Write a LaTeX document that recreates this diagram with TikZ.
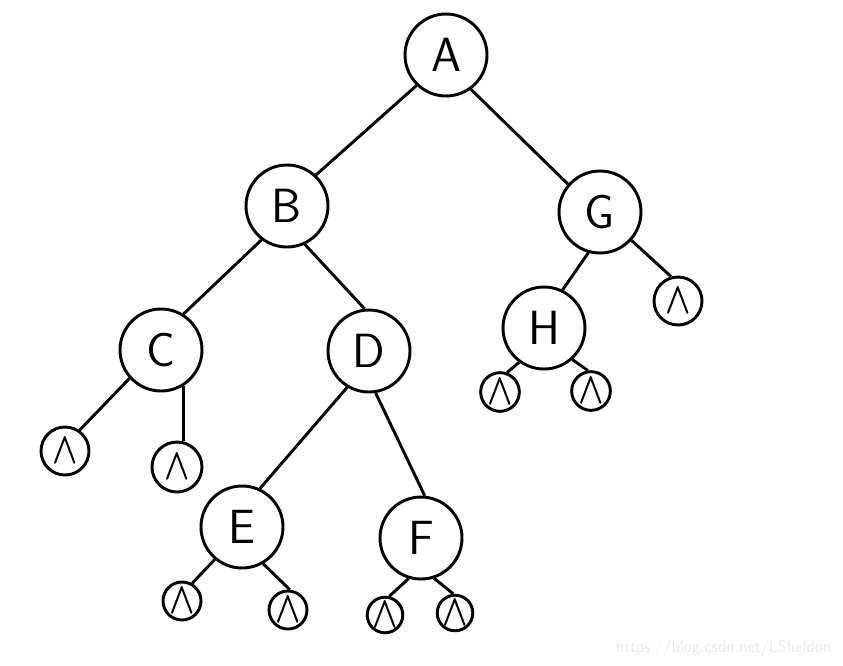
\documentclass[tikz,border=0pt]{standalone}
\usepackage{amsmath,amssymb}
\usepackage{xcolor}
\definecolor{inkcolor}{HTML}{000000}
\definecolor{markcolor}{HTML}{E8E8E8}
\usepackage{tikz}
\usetikzlibrary{positioning}
\tikzset{
    treenode/.style={
        circle,
        draw=inkcolor,
        fill=white,
        text=inkcolor,
        minimum size=61.5pt,
        inner sep=0pt,
        line width=2.2pt,
        font=\sffamily\fontsize{36}{36}\selectfont,
    },
    nilnode/.style={
        circle,
        draw=inkcolor,
        fill=white,
        text=inkcolor,
        minimum size=29pt,
        inner sep=0pt,
        line width=2.2pt,
        font=\fontsize{24}{24}\selectfont,
    },
    edge/.style={
        line width=2.2pt,
        inkcolor,
    },
    wmtext/.style={
        text=markcolor,
        font=\sffamily\fontsize{12.5}{12.5}\selectfont,
    },
}
\newcommand{\nil}{\scalebox{1.0}[1.35]{$\boldsymbol{\wedge}$}}

\begin{document}
\begin{tikzpicture}[x=0.75pt,y=-0.75pt]
        \useasboundingbox (0,0) rectangle (843,665);
        % main nodes
        \node[treenode] (A) at (446,55) {A};
        \node[treenode] (B) at (287,206) {B};
        \node[treenode] (G) at (600,212) {G};
        \node[treenode] (C) at (161,350) {C};
        \node[treenode] (D) at (369,351) {D};
        \node[treenode] (H) at (544,328) {H};
        \node[treenode] (E) at (242,527) {E};
        \node[treenode] (F) at (421,538) {F};
        
        % empty children
        \node[nilnode, minimum size=36pt] (Cl) at (65,451) {\nil};
        \node[nilnode, minimum size=37.5pt] (Cr) at (177,467) {\nil};
        \node[nilnode, minimum size=36pt] (Gr) at (678,301) {\nil};
        \node[nilnode] (Hl) at (500,392) {\nil};
        \node[nilnode] (Hr) at (591,391) {\nil};
        \node[nilnode, minimum size=28.5pt] (El) at (182,601) {\nil};
        \node[nilnode, minimum size=28.5pt] (Er) at (288,610) {\nil};
        \node[nilnode, minimum size=26pt] (Fl) at (385,615) {\nil};
        \node[nilnode, minimum size=26pt] (Fr) at (455,613) {\nil};
        
        \draw[edge] (A.-134) -- (B.47);
        \draw[edge] (A.-54) -- (G.139);
        \draw[edge] (B.-127) -- (C.58);
        \draw[edge] (B.-65) -- (D.96);
        \draw[edge] (C.-138) -- (Cl.55);
        \draw[edge] (C.-58) -- (C.-58 |- Cr.north);
        \draw[edge] (D.-121) -- (E.65);
        \draw[edge] (D.-81) -- (F.85);
        \draw[edge] (E.-130) -- (El.60);
        \draw[edge] (E.-60) -- (Er.85);
        \draw[edge] (F.-107) -- (Fl.77);
        \draw[edge] (F.-72) -- (Fr.95);
        \draw[edge] (G.-106) -- (H.64);
        \draw[edge] (G.-42) -- (Gr.106);
        \draw[edge] (H.-126) -- (Hl.70);
        \draw[edge] (H.-48) -- (Hr.99);
        
        \node[wmtext, anchor=east] (site) at (836,648) {https://blog.csdn.net/LSheldon};
    \end{tikzpicture}
\end{document}
